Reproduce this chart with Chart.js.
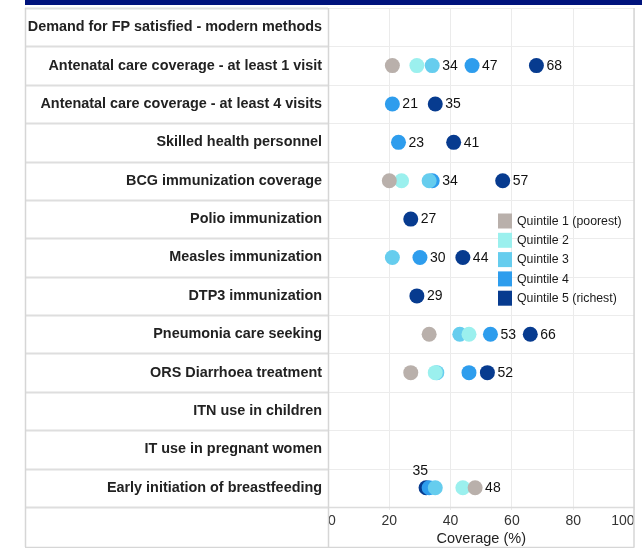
<!DOCTYPE html>
<html><head><meta charset="utf-8">
<script src="https://cdn.jsdelivr.net/npm/chart.js@4/dist/chart.umd.min.js"></script>
<style>
html,body{margin:0;padding:0;background:#fff;}
#wrap{position:relative;width:642px;height:548px;}
#topbar{position:absolute;left:25px;top:0;width:617px;height:5px;background:#00137c;}
canvas{position:absolute;left:0;top:0;}
</style></head><body>
<div id="wrap"><canvas id="c" width="642" height="548"></canvas><div id="topbar"></div></div>
<script>
const categories = [
  "Demand for FP satisfied - modern methods",
  "Antenatal care coverage - at least 1 visit",
  "Antenatal care coverage - at least 4 visits",
  "Skilled health personnel",
  "BCG immunization coverage",
  "Polio immunization",
  "Measles immunization",
  "DTP3 immunization",
  "Pneumonia care seeking",
  "ORS Diarrhoea treatment",
  "ITN use in children",
  "IT use in pregnant women",
  "Early initiation of breastfeeding"
];
const seriesNames = ["Quintile 1 (poorest)","Quintile 2","Quintile 3","Quintile 4","Quintile 5 (richest)"];
const seriesColors = ["#b9b0ab","#9bf0ee","#66cdee","#2e9ded","#073b8f"];
const q1 = [null,21,null,null,20,null,null,null,33,27,null,null,48];
const q2 = [null,29,null,null,24,null,null,null,46,35,null,null,44];
const q3 = [null,34,null,null,33,null,21,null,43,35.5,null,null,35];
const q4 = [null,47,21,23,34,null,30,null,53,46,null,null,33];
const q5 = [null,68,35,41,57,27,44,29,66,52,null,null,32];
// where a value label is shown: 'r' = right of the dot, 't' = above the group
const q1Show = [null,null,null,null,null,null,null,null,null,null,null,null,'r'];
const q2Show = [null,null,null,null,null,null,null,null,null,null,null,null,null];
const q3Show = [null,'r',null,null,null,null,null,null,null,null,null,null,'t'];
const q4Show = [null,'r','r','r','r',null,'r',null,'r',null,null,null,null];
const q5Show = [null,'r','r','r','r','r','r','r','r','r',null,null,null];
const xTicks = [0,20,40,60,80,100];

const allSeries = [q1,q2,q3,q4,q5];
const allShow = [q1Show,q2Show,q3Show,q4Show,q5Show];

const datasets = allSeries.map((arr,si)=>({
  label: seriesNames[si],
  data: arr.map((v,i)=> v===null ? null : {x:v, y:categories[i]}).filter(p=>p!==null),
  showFlags: arr.map((v,i)=> v===null ? undefined : allShow[si][i]).filter(f=>f!==undefined),
  backgroundColor: seriesColors[si],
  borderWidth: 0,
  pointRadius: 7.5,
  pointHoverRadius: 7.5
}));

const FONT = '"Liberation Sans", Arial, sans-serif';

const tablePlugin = {
  id:'table',
  beforeDatasetsDraw(chart){
    const ctx = chart.ctx, ys = chart.scales.y, xs = chart.scales.x, ca = chart.chartArea;
    const L = ys.left, B = xs.bottom - 1;
    ctx.save();
    for(let i=0;i<=categories.length;i++){
      const y = Math.round(ys.getPixelForValue(i-0.5))+0.5;
      ctx.strokeStyle = '#dedede'; ctx.lineWidth = 2;
      ctx.beginPath(); ctx.moveTo(L,y); ctx.lineTo(ca.left,y); ctx.stroke();
      ctx.strokeStyle = (i===categories.length)? '#dcdcdc' : '#ececec'; ctx.lineWidth = (i===categories.length)?1.5:1;
      ctx.beginPath(); ctx.moveTo(ca.left,y); ctx.lineTo(ca.right,y); ctx.stroke();
    }
    ctx.strokeStyle = '#d6d6d6'; ctx.lineWidth = 1.5;
    const top = Math.round(ys.getPixelForValue(-0.5));
    [L+0.5, ca.left+0.5, ca.right-0.5].forEach(x=>{
      ctx.beginPath(); ctx.moveTo(x,top); ctx.lineTo(x,B); ctx.stroke();
    });
    ctx.beginPath(); ctx.moveTo(L,B+0.5); ctx.lineTo(ca.right,B+0.5); ctx.stroke();
    ctx.restore();
  }
};

const valueLabelPlugin = {
  id:'valueLabels',
  afterDatasetsDraw(chart){
    const ctx = chart.ctx;
    ctx.save();
    ctx.font = '14px ' + FONT;
    ctx.fillStyle = '#111';
    chart.data.datasets.forEach((ds,di)=>{
      const meta = chart.getDatasetMeta(di);
      meta.data.forEach((pt,pi)=>{
        const f = ds.showFlags[pi];
        if(!f) return;
        const txt = String(Math.round(ds.data[pi].x));
        if(f==='r'){
          ctx.textAlign='left'; ctx.textBaseline='middle';
          ctx.fillText(txt, pt.x+10, pt.y+0.5);
        } else {
          ctx.textAlign='center'; ctx.textBaseline='middle';
          ctx.fillText(txt, pt.x-15, pt.y-17);
        }
      });
    });
    ctx.restore();
  }
};

const legendPlugin = {
  id:'customLegend',
  afterDatasetsDraw(chart){
    const ctx = chart.ctx, ca = chart.chartArea;
    const x0 = ca.left + 170, y0 = ca.top + 213;
    ctx.save();
    ctx.font = '12.3px ' + FONT;
    ctx.textAlign='left'; ctx.textBaseline='middle';
    chart.data.datasets.forEach((ds,i)=>{
      const yc = y0 + i*19.3;
      ctx.fillStyle = ds.backgroundColor;
      ctx.fillRect(x0, yc-7.5, 14, 15);
      ctx.fillStyle = '#1a1a1a';
      ctx.fillText(ds.label, x0+19, yc+0.5);
    });
    ctx.restore();
  }
};

new Chart(document.getElementById('c'), {
  type:'scatter',
  data:{datasets},
  plugins:[tablePlugin, valueLabelPlugin, legendPlugin],
  options:{
    responsive:false,
    animation:false,
    events:[],
    layout:{padding:{left:25, top:8, right:7, bottom:0}},
    plugins:{legend:{display:false}, tooltip:{enabled:false}},
    scales:{
      x:{
        type:'linear', min:0, max:100,
        afterBuildTicks: s => { s.ticks = xTicks.map(v=>({value:v})); },
        afterFit: s => { s.height = 41; s.paddingLeft = 0; s.paddingRight = 0; },
        grid:{color:'#ebebeb', drawTicks:true, tickLength:3},
        border:{display:false},
        ticks:{align:'inner', padding:3, color:'#333', font:{family:FONT, size:14}, maxRotation:0},
        title:{display:true, text:'Coverage (%)', color:'#222', font:{family:FONT, size:14.5}, padding:{top:0,bottom:0}}
      },
      y:{
        type:'category', labels:categories, offset:true,
        afterFit: s => { s.width = 303; s.paddingTop = 0; s.paddingBottom = 0; },
        grid:{display:false, drawTicks:false},
        border:{display:false},
        ticks:{autoSkip:false, padding:6, color:'#222', font:{family:FONT, size:14.4, weight:'bold'}}
      }
    }
  }
});
</script>
</body></html>
